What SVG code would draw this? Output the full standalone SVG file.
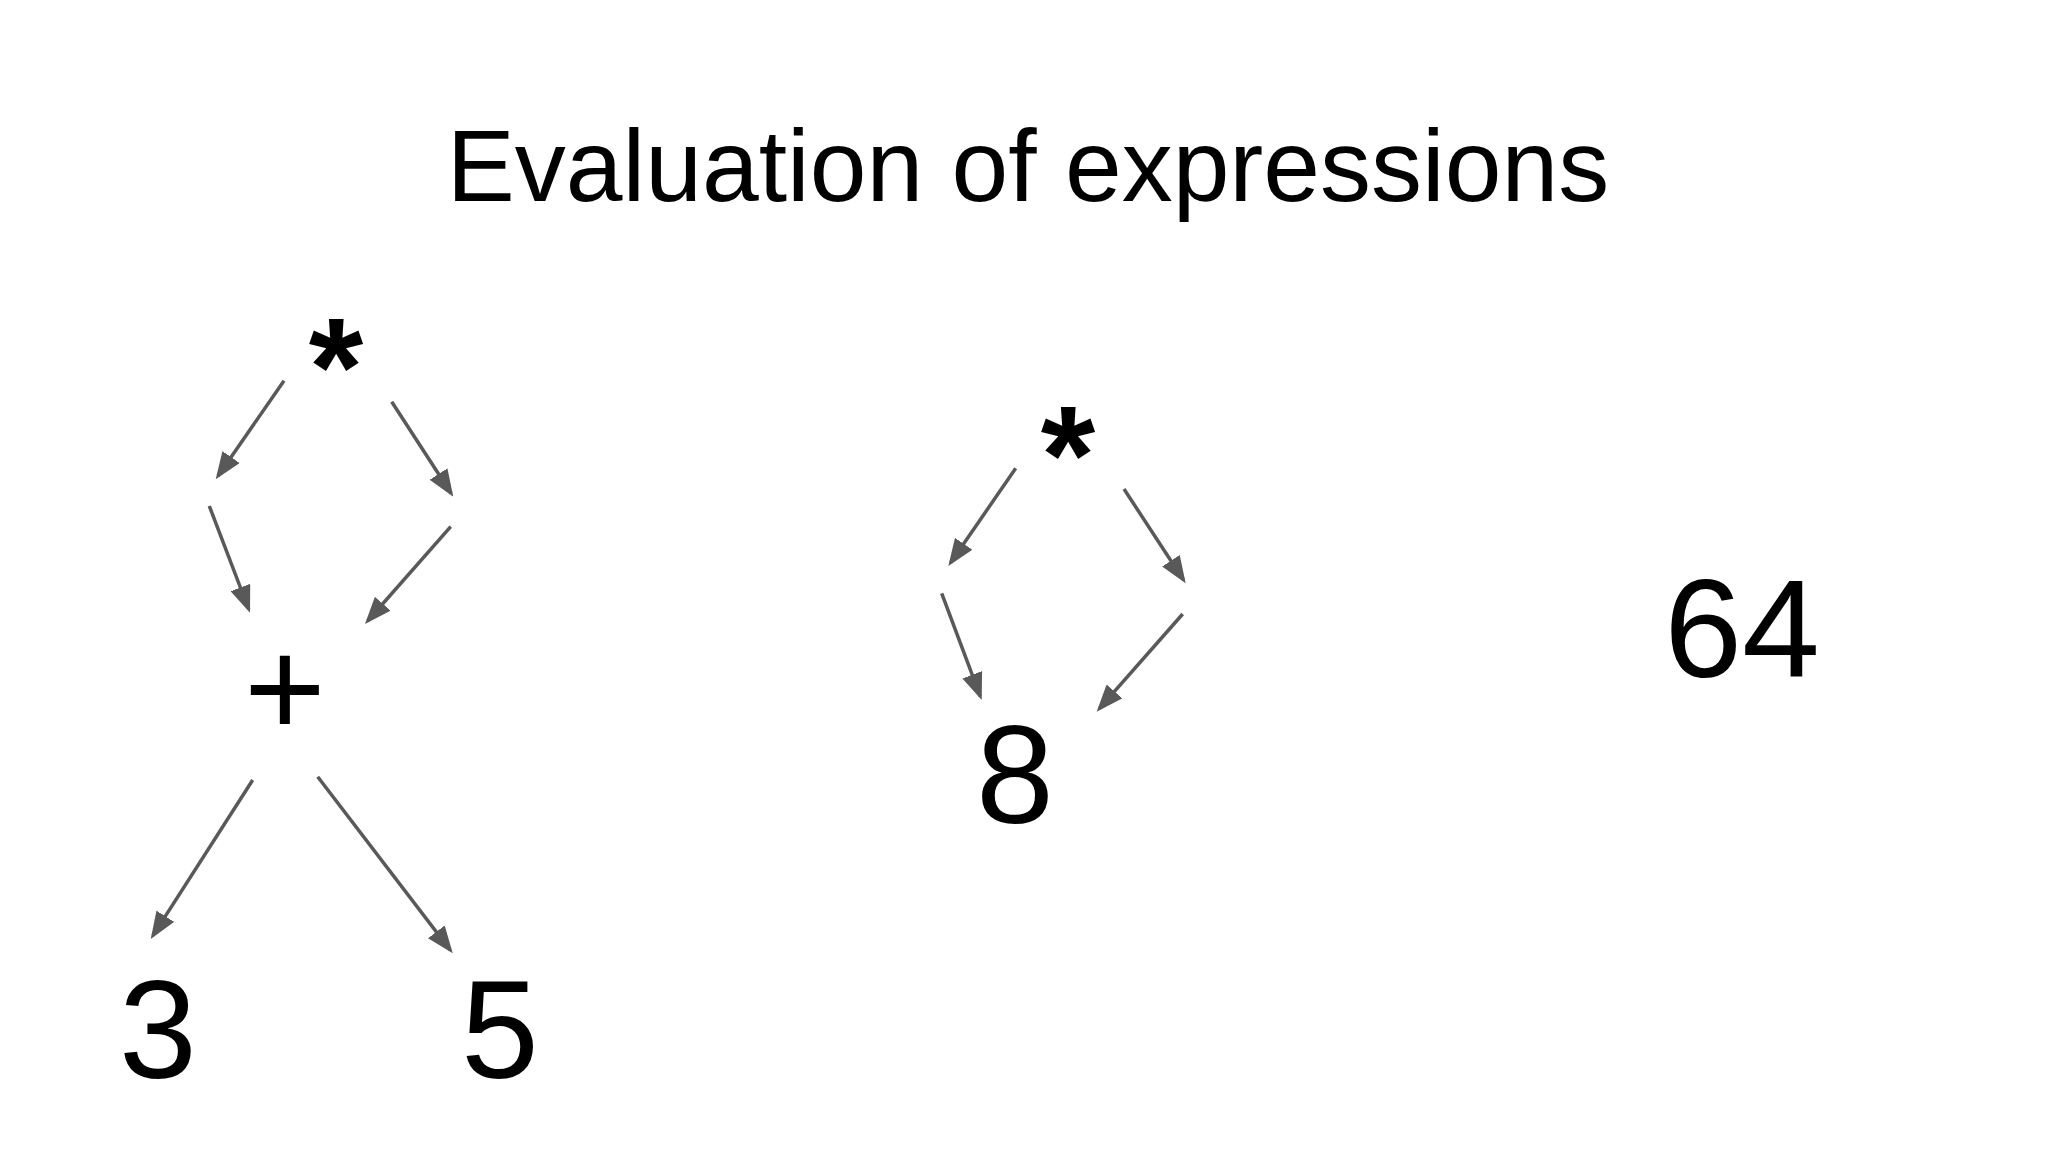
<svg xmlns="http://www.w3.org/2000/svg" width="2048" height="1152" viewBox="0 0 2048 1152">
  <style>
    .t { font-family: "Liberation Sans", Arial, sans-serif; fill: #000000; text-anchor: middle; }
    .title { font-size: 102px; }
    .big { font-size: 140px; }
    .star { font-size: 140px; font-weight: bold; }
    .arr { stroke: #595959; stroke-width: 3.5; fill: none; marker-end: url(#ah); }
  </style>
  <defs>
    <marker id="ah" markerUnits="userSpaceOnUse" markerWidth="27" markerHeight="21" viewBox="0 0 27 21" refX="23" refY="10.5" orient="auto">
      <path d="M0,0 L27,10.5 L0,21 z" fill="#595959"/>
    </marker>
  </defs>
  <rect width="2048" height="1152" fill="#ffffff"/>

  <g id="title"><text class="t title" x="1028" y="201">Evaluation of expressions</text></g>

  <g id="node-star1"><text class="t star" x="336" y="415">*</text></g>
  <g id="node-plus"><text class="t big" x="285" y="736">+</text></g>
  <g id="node-3"><text class="t big" x="158" y="1078">3</text></g>
  <g id="node-5"><text class="t big" x="500" y="1078">5</text></g>

  <g id="node-star2"><text class="t star" x="1068" y="503">*</text></g>
  <g id="node-8"><text class="t big" x="1015" y="823">8</text></g>

  <g id="node-64"><text class="t big" x="1742" y="677">64</text></g>

  <g id="connectors">
    <line class="arr" x1="284" y1="380.7" x2="218.0" y2="476.0"/>
    <line class="arr" x1="391.7" y1="401.7" x2="451.1" y2="493.3"/>
    <line class="arr" x1="209.3" y1="506" x2="248.6" y2="609"/>
    <line class="arr" x1="450.7" y1="526.7" x2="367.6" y2="621"/>
    <line class="arr" x1="252.7" y1="780" x2="152.9" y2="935.6"/>
    <line class="arr" x1="317.7" y1="776.7" x2="450.3" y2="950.1"/>
    <line class="arr" x1="1015.7" y1="468.3" x2="950.6" y2="562.7"/>
    <line class="arr" x1="1124" y1="489" x2="1183.5" y2="580"/>
    <line class="arr" x1="941.7" y1="593.3" x2="980.3" y2="696.3"/>
    <line class="arr" x1="1182.7" y1="614" x2="1099.3" y2="708.7"/>
  </g>
</svg>
